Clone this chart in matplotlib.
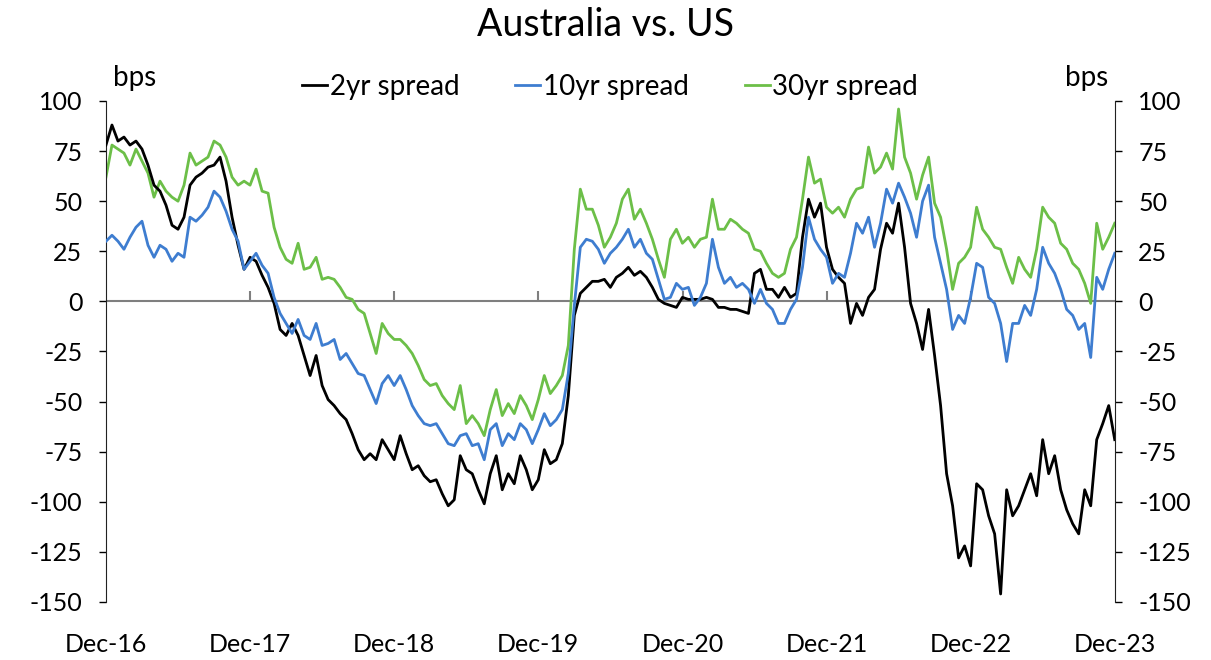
import numpy as np
import pandas as pd
import matplotlib
matplotlib.use("Agg")
import matplotlib.pyplot as plt
import matplotlib.dates as mdates

# semi-monthly readings, Dec-16 .. Dec-23 (bps)
dates = pd.date_range("2016-12-15", "2023-12-15", periods=169)

spread_2y = [
    78, 88, 80, 82, 78, 80, 76, 68, 58, 55, 48, 38, 36, 42, 58, 62, 64, 67, 68, 72,
    60, 42, 28, 16, 22, 20, 13, 7, -1, -14, -17, -11, -17, -27, -37, -27, -42, -49, -52, -56,
    -59, -66, -74, -79, -76, -79, -69, -74, -79, -67, -76, -84, -82, -87, -90, -89, -96, -102, -99, -77,
    -84, -86, -94, -101, -86, -77, -94, -86, -91, -77, -84, -94, -89, -74, -81, -79, -71, -47, -7, 4,
    7, 10, 10, 11, 7, 12, 14, 17, 13, 15, 12, 7, 1, -1, -2, -3, 2, 1, 1, 1,
    2, 1, -3, -3, -4, -4, -5, -6, 14, 16, 6, 6, 2, 7, 2, 4, 32, 51, 42, 49,
    27, 16, 12, 9, -11, -1, -7, 2, 6, 26, 39, 34, 49, 27, -1, -11, -24, -4, -27, -52,
    -86, -102, -128, -122, -132, -91, -94, -107, -116, -146, -94, -107, -102, -94, -86, -97, -69, -86, -77, -94,
    -104, -111, -116, -94, -102, -69, -61, -52, -69,
]

spread_10y = [
    30, 33, 30, 26, 32, 37, 40, 28, 22, 28, 26, 20, 24, 22, 42, 40, 43, 47, 55, 52,
    45, 36, 30, 16, 20, 24, 18, 14, 2, -6, -11, -16, -9, -17, -19, -11, -22, -21, -19, -29,
    -26, -31, -36, -37, -44, -51, -41, -37, -42, -37, -44, -52, -57, -61, -62, -61, -66, -71, -72, -67,
    -66, -72, -71, -79, -64, -61, -72, -66, -69, -61, -64, -71, -64, -56, -62, -59, -54, -36, -2, 27,
    31, 30, 26, 19, 24, 27, 31, 36, 27, 31, 24, 21, 11, 1, 2, 9, 6, 7, -2, 2,
    9, 31, 17, 9, 12, 7, 9, 6, -1, 6, -1, -4, -11, -11, -4, 1, 17, 42, 31, 26,
    22, 9, 14, 12, 24, 39, 34, 42, 27, 39, 56, 49, 59, 52, 44, 32, 50, 58, 32, 19,
    6, -14, -7, -11, 2, 19, 17, 2, -1, -11, -30, -11, -11, -2, -7, 6, 27, 19, 14, 6,
    -4, -7, -14, -11, -28, 12, 6, 16, 24,
]

spread_30y = [
    62, 78, 76, 74, 68, 76, 70, 64, 52, 60, 55, 52, 50, 58, 74, 68, 70, 72, 80, 78,
    72, 62, 58, 60, 58, 66, 55, 54, 37, 27, 21, 19, 29, 16, 17, 22, 11, 12, 11, 7,
    2, 1, -4, -6, -16, -26, -11, -16, -19, -19, -22, -26, -32, -39, -42, -41, -47, -51, -54, -42,
    -61, -57, -61, -67, -54, -44, -57, -51, -56, -47, -52, -59, -49, -37, -46, -42, -37, -22, 26, 56,
    46, 46, 38, 27, 32, 39, 51, 56, 41, 46, 39, 31, 21, 12, 31, 36, 29, 32, 27, 31,
    32, 51, 36, 36, 41, 39, 36, 34, 26, 25, 19, 14, 12, 14, 26, 32, 51, 72, 59, 61,
    47, 44, 47, 42, 51, 56, 57, 77, 64, 67, 74, 66, 96, 72, 64, 51, 63, 72, 49, 42,
    26, 6, 19, 22, 27, 47, 36, 32, 27, 26, 17, 9, 22, 16, 12, 26, 47, 42, 39, 29,
    26, 19, 16, 9, -1, 39, 26, 32, 39,
]

year_ticks = pd.to_datetime([f"{y}-12-15" for y in range(2016, 2024)])
yticks = np.arange(-150, 101, 25)

plt.rcParams["font.family"] = ["Lato", "DejaVu Sans"]
plt.rcParams["font.size"] = 18
plt.rcParams["axes.unicode_minus"] = False

fig = plt.figure(figsize=(12.11, 6.60), dpi=100)
ax = fig.add_axes([0.0875, 0.0879, 0.833, 0.7591])

ax.plot(dates, spread_2y, color="black", lw=2, label="2yr spread", zorder=3)
ax.plot(dates, spread_10y, color="#3E7DD0", lw=2, label="10yr spread", zorder=4)
ax.plot(dates, spread_30y, color="#6CBF48", lw=2, label="30yr spread", zorder=2)

ax.set_ylim(-150, 100)
ax.set_xlim(dates[0], dates[-1])
ax.set_yticks(yticks)

# zero line with small year ticks above it
ax.axhline(0, color="#7f7f7f", lw=1.5, zorder=1)
ax.vlines(year_ticks[1:-1], 0, 5, color="#7f7f7f", lw=1.5, zorder=1)

ax.set_xticks(year_ticks)
ax.xaxis.set_major_formatter(mdates.DateFormatter("%b-%y"))
ax.tick_params(axis="x", length=0, pad=22)
ax.tick_params(axis="y", direction="out", length=5, width=1, pad=12)

for s in ["top", "bottom", "right"]:
    ax.spines[s].set_visible(False)
ax.spines["left"].set_color("#222222")

ax2 = ax.twinx()
ax2.set_ylim(-150, 100)
ax2.set_yticks(yticks)
ax2.tick_params(axis="y", direction="out", length=5, width=1, pad=12)
for s in ["top", "bottom", "left"]:
    ax2.spines[s].set_visible(False)
ax2.spines["right"].set_color("#222222")

fig.text(0.0935, 0.882, "bps", ha="left", va="center", fontsize=20)
fig.text(0.915, 0.882, "bps", ha="right", va="center", fontsize=20)
fig.suptitle("Australia vs. US", y=0.962, fontsize=27, va="center")

fig.legend(loc="center", bbox_to_anchor=(0.504, 0.868), ncol=3, frameon=False,
           fontsize=20, handlelength=0.9, handletextpad=0.1, columnspacing=2.0)

fig.savefig("out.png", dpi=100)
